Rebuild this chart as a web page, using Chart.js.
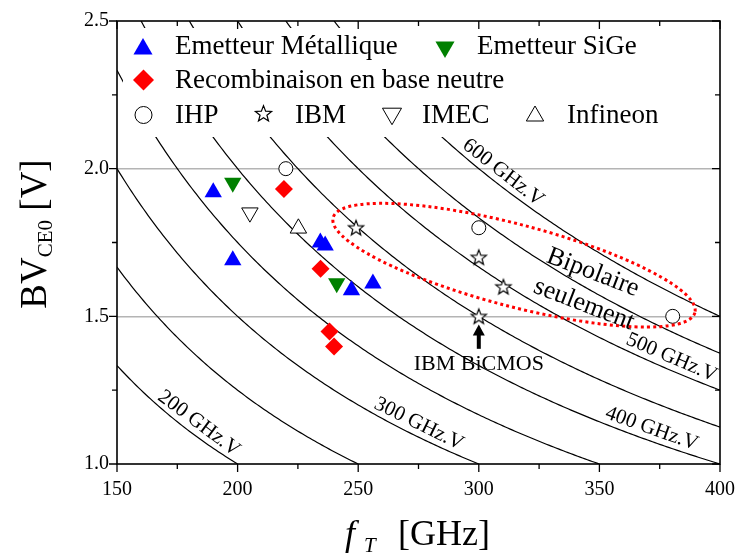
<!DOCTYPE html>
<html>
<head>
<meta charset="utf-8">
<script src="https://cdn.jsdelivr.net/npm/chart.js@4.4.0/dist/chart.umd.min.js"></script>
<style>
  html, body { margin: 0; padding: 0; background: #fff; }
  #wrap { width: 735px; height: 558px; }
</style>
</head>
<body>
<div id="wrap"><canvas id="bvChart" width="735" height="558"></canvas></div>
<script>
// --- data (fT in GHz, BVCE0 in V) ---
const metalFt = [189.9, 198.0, 234.3, 236.3, 247.2, 256.1];
const metalBv = [1.92, 1.69, 1.75, 1.74, 1.588, 1.611];
const sigeFt = [198.0, 241.1];
const sigeBv = [1.952, 1.612];
const recombFt = [219.2, 234.4, 238.1, 240.0];
const recombBv = [1.931, 1.661, 1.449, 1.398];
const ihpFt = [220.0, 300.0, 380.4];
const ihpBv = [2.0, 1.8, 1.5];
const ibmFt = [249.1, 300.0, 310.2, 300.0];
const ibmBv = [1.80, 1.70, 1.60, 1.50];
const imecFt = [205.1];
const imecBv = [1.851];
const infineonFt = [225.2];
const infineonBv = [1.798];

// constant fT x BV curves (GHz.V), and the ones that carry a label
const isoK = [200, 250, 300, 350, 400, 450, 500, 550, 600];
const isoLabelK = [200, 300, 400, 500, 600];

// axes
const xTicks = [150, 200, 250, 300, 350, 400];
const yTicks = [1.0, 1.5, 2.0, 2.5];
const yGrid = [1.5, 2.0];

const serif = '"Liberation Serif", "Times New Roman", serif';

// --- layout of the annotations (pixels / anchors) ---
const isoLabelAnchor = [181, 273, 370, 378, 307]; // fT where each label sits on its curve
const isoLabelOffset = 12;
const ellipseTips = [[239.6, 1.834], [389.6, 1.5125]];
const ellipseHalfWidth = 41;

// 5 branch open star for IBM
function starCanvas(rOut, rIn) {
  const s = Math.ceil(rOut * 2 + 4);
  const c = document.createElement("canvas");
  c.width = s;
  c.height = s;
  const g = c.getContext("2d");
  g.beginPath();
  for (let i = 0; i < 10; i++) {
    const r = i % 2 ? rIn : rOut;
    const a = -Math.PI / 2 + (i * Math.PI) / 5;
    g.lineTo(s / 2 + r * Math.cos(a), s / 2 + 0.6 + r * Math.sin(a));
  }
  g.closePath();
  g.fillStyle = "#fff";
  g.fill();
  g.strokeStyle = "#000";
  g.lineWidth = 1.2;
  g.stroke();
  return c;
}
const starPlot = starCanvas(8, 3.4);
const starLegend = starCanvas(8.5, 3.6);

const pts = (xs, ys) => xs.map((v, i) => ({ x: v, y: ys[i] }));

function isoCurve(k) {
  const lo = Math.max(xTicks[0], k / yTicks[yTicks.length - 1]);
  const hi = Math.min(xTicks[xTicks.length - 1], k / yTicks[0]);
  const out = [];
  for (let f = lo; f < hi; f += 1) out.push({ x: f, y: k / f });
  out.push({ x: hi, y: k / hi });
  return out;
}

const markerSets = [
  { label: "Emetteur Métallique", data: pts(metalFt, metalBv), pointStyle: "triangle", pointRadius: 10, backgroundColor: "#0000ff", borderColor: "#0000ff", borderWidth: 0 },
  { label: "Emetteur SiGe", data: pts(sigeFt, sigeBv), pointStyle: "triangle", pointRotation: 180, pointRadius: 10, backgroundColor: "#008000", borderColor: "#008000", borderWidth: 0 },
  { label: "Recombinaison en base neutre", data: pts(recombFt, recombBv), pointStyle: "rectRot", pointRadius: 9, backgroundColor: "#ff0000", borderColor: "#ff0000", borderWidth: 0 },
  { label: "IHP", data: pts(ihpFt, ihpBv), pointStyle: "circle", pointRadius: 7, backgroundColor: "#fff", borderColor: "#000", borderWidth: 1 },
  { label: "IBM", data: pts(ibmFt, ibmBv), pointStyle: starPlot, pointRadius: 8 },
  { label: "IMEC", data: pts(imecFt, imecBv), pointStyle: "triangle", pointRotation: 180, pointRadius: 9.5, backgroundColor: "#fff", borderColor: "#000", borderWidth: 1 },
  { label: "Infineon", data: pts(infineonFt, infineonBv), pointStyle: "triangle", pointRadius: 9.5, backgroundColor: "#fff", borderColor: "#000", borderWidth: 1 },
].map((d) => ({ ...d, order: 1, pointHoverRadius: d.pointRadius }));

const curveSets = isoK.map((k) => ({
  label: k + " GHz.V",
  data: isoCurve(k),
  showLine: true,
  pointRadius: 0,
  borderColor: "#000",
  borderWidth: 1.2,
  order: 5,
}));

// legend, drawn by hand inside the plot (rows like the original)
const legendItems = [
  { set: 0, mx: 143, my: 49, r: 11, tx: 175, ty: 54 },
  { set: 1, mx: 445, my: 47, r: 11, tx: 477, ty: 54 },
  { set: 2, mx: 143.5, my: 80, r: 10.5, tx: 175, ty: 88 },
  { set: 3, mx: 143.5, my: 115, r: 8.5, tx: 175, ty: 123 },
  { set: 4, mx: 263.5, my: 113.5, r: 8.5, tx: 295, ty: 123, img: starLegend },
  { set: 5, mx: 392, my: 113.7, r: 11, tx: 422, ty: 123 },
  { set: 6, mx: 535, my: 116, r: 10, tx: 567, ty: 123 },
];

function drawMarker(ctx, ds, x, y, r, img) {
  ctx.save();
  ctx.fillStyle = ds.backgroundColor || "#fff";
  ctx.strokeStyle = ds.borderColor || "#000";
  ctx.lineWidth = ds.borderWidth || 0;
  Chart.helpers.drawPoint(ctx, {
    pointStyle: img || ds.pointStyle,
    rotation: ds.pointRotation || 0,
    radius: r,
    borderWidth: ds.borderWidth || 0,
  }, x, y);
  ctx.restore();
}

function rotatedText(ctx, txt, x, y, deg, font) {
  ctx.save();
  ctx.translate(x, y);
  ctx.rotate((deg * Math.PI) / 180);
  ctx.font = font;
  ctx.textAlign = "center";
  ctx.textBaseline = "middle";
  ctx.fillText(txt, 0, 0);
  ctx.restore();
}

const overlay = {
  id: "overlay",
  afterDatasetsDraw(chart) {
    const { ctx, chartArea: a } = chart;
    const xs = chart.scales.x, ys = chart.scales.y;
    const px = (v) => xs.getPixelForValue(v);
    const py = (v) => ys.getPixelForValue(v);
    ctx.save();
    ctx.fillStyle = "#000";

    // 1. labels on the iso curves
    isoLabelK.forEach((k, i) => {
      const f = isoLabelAnchor[i];
      const x0 = px(f), y0 = py(k / f);
      const x1 = px(f + 1), y1 = py(k / (f + 1));
      const ang = Math.atan2(y1 - y0, x1 - x0);
      const cx = x0 + Math.sin(ang) * isoLabelOffset;
      const cy = y0 - Math.cos(ang) * isoLabelOffset;
      rotatedText(ctx, k + " GHz.V", cx, cy, (ang * 180) / Math.PI, "21px " + serif);
    });

    // 2. red dotted ellipse "Bipolaire seulement"
    const ex0 = px(ellipseTips[0][0]), ey0 = py(ellipseTips[0][1]);
    const ex1 = px(ellipseTips[1][0]), ey1 = py(ellipseTips[1][1]);
    ctx.beginPath();
    ctx.ellipse((ex0 + ex1) / 2, (ey0 + ey1) / 2, Math.hypot(ex1 - ex0, ey1 - ey0) / 2,
      ellipseHalfWidth, Math.atan2(ey1 - ey0, ex1 - ex0), 0, Math.PI * 2);
    ctx.setLineDash([3, 3.2]);
    ctx.lineWidth = 3;
    ctx.strokeStyle = "#ff0000";
    ctx.stroke();
    ctx.setLineDash([]);
    rotatedText(ctx, "Bipolaire", px(347.3), py(1.648), 21, "26px " + serif);
    rotatedText(ctx, "seulement", px(343.6), py(1.54), 21, "26px " + serif);

    // 3. arrow + IBM BiCMOS
    const ax = px(300), aTop = py(1.472), aBot = py(1.39);
    ctx.lineWidth = 4;
    ctx.strokeStyle = "#000";
    ctx.beginPath();
    ctx.moveTo(ax, aBot);
    ctx.lineTo(ax, aTop + 9);
    ctx.stroke();
    ctx.beginPath();
    ctx.moveTo(ax, aTop);
    ctx.lineTo(ax - 6, aTop + 11);
    ctx.lineTo(ax + 6, aTop + 11);
    ctx.closePath();
    ctx.fill();
    ctx.font = "22px " + serif;
    ctx.textAlign = "center";
    ctx.textBaseline = "alphabetic";
    ctx.fillText("IBM BiCMOS", ax, py(1.3196));

    // 4. legend box
    ctx.fillStyle = "#fff";
    ctx.fillRect(123, 28, 577, 109);
    ctx.fillStyle = "#000";
    ctx.font = "27px " + serif;
    ctx.textAlign = "left";
    legendItems.forEach((it) => {
      const ds = chart.data.datasets[it.set];
      drawMarker(ctx, ds, it.mx, it.my, it.r, it.img);
      ctx.fillStyle = "#000";
      ctx.fillText(ds.label, it.tx, it.ty);
    });

    // 5. frame and ticks (out on left/bottom, in on top/right)
    ctx.strokeStyle = "#000";
    ctx.lineWidth = 1.6;
    ctx.strokeRect(a.left, a.top, a.right - a.left, a.bottom - a.top);
    ctx.lineWidth = 1.3;
    ctx.beginPath();
    for (let i = 0; i < xTicks.length; i++) {
      const vals = [xTicks[i]];
      if (i < xTicks.length - 1) vals.push((xTicks[i] + xTicks[i + 1]) / 2);
      vals.forEach((v, j) => {
        const p = px(v), len = j === 0 ? 8 : 5;
        ctx.moveTo(p, a.bottom); ctx.lineTo(p, a.bottom + len);
        ctx.moveTo(p, a.top); ctx.lineTo(p, a.top + len);
      });
    }
    for (let i = 0; i < yTicks.length; i++) {
      const vals = [yTicks[i]];
      if (i < yTicks.length - 1) vals.push((yTicks[i] + yTicks[i + 1]) / 2);
      vals.forEach((v, j) => {
        const p = py(v), len = j === 0 ? 8 : 5;
        ctx.moveTo(a.left, p); ctx.lineTo(a.left - len, p);
        ctx.moveTo(a.right, p); ctx.lineTo(a.right - len, p);
      });
    }
    ctx.stroke();

    // 6. axis titles with subscripts
    ctx.fillStyle = "#000";
    ctx.textBaseline = "alphabetic";
    ctx.textAlign = "left";
    const big = "36px " + serif, sub = "21px " + serif;
    ctx.font = "italic " + big;
    ctx.fillText("f", 345, 545);
    ctx.font = "italic " + sub;
    ctx.fillText("T", 364, 552);
    ctx.font = big;
    ctx.fillText("[GHz]", 398, 545);

    ctx.save();
    ctx.translate(46, 234);
    ctx.rotate(-Math.PI / 2);
    const yb = "37px " + serif;
    ctx.font = yb;
    const wBV = ctx.measureText("BV").width, wV = ctx.measureText(" [V]").width;
    ctx.font = sub;
    const wCE = ctx.measureText("CE0").width;
    let t = -(wBV + wCE + wV) / 2;
    ctx.font = yb;
    ctx.fillText("BV", t, 0);
    t += wBV;
    ctx.font = sub;
    ctx.fillText("CE0", t, 6);
    t += wCE;
    ctx.font = yb;
    ctx.fillText(" [V]", t, 0);
    ctx.restore();

    ctx.restore();
  },
};

new Chart(document.getElementById("bvChart"), {
  type: "scatter",
  data: { datasets: [...markerSets, ...curveSets] },
  options: {
    responsive: false,
    animation: false,
    layout: { padding: { top: 21, right: 15, left: 0, bottom: 0 } },
    plugins: { legend: { display: false }, tooltip: { enabled: false } },
    scales: {
      x: {
        type: "linear",
        min: xTicks[0],
        max: xTicks[xTicks.length - 1],
        afterBuildTicks: (s) => { s.ticks = xTicks.map((v) => ({ value: v })); },
        ticks: { color: "#000", font: { family: serif, size: 20 }, padding: 14, maxRotation: 0 },
        grid: { display: false, drawTicks: false },
        border: { display: false },
        afterFit: (s) => { s.height = 94; s.paddingLeft = 0; s.paddingRight = 0; },
      },
      y: {
        min: yTicks[0],
        max: yTicks[yTicks.length - 1],
        afterBuildTicks: (s) => { s.ticks = yTicks.map((v) => ({ value: v })); },
        ticks: { color: "#000", font: { family: serif, size: 20 }, padding: 8, callback: (v) => v.toFixed(1) },
        grid: {
          drawTicks: false,
          lineWidth: 1.5,
          color: (c) => (c.tick && yGrid.includes(c.tick.value) ? "#b4b4b4" : "rgba(0,0,0,0)"),
        },
        border: { display: false },
        afterFit: (s) => { s.width = 117; s.paddingTop = 0; s.paddingBottom = 0; },
      },
    },
  },
  plugins: [overlay],
});
</script>
</body>
</html>
